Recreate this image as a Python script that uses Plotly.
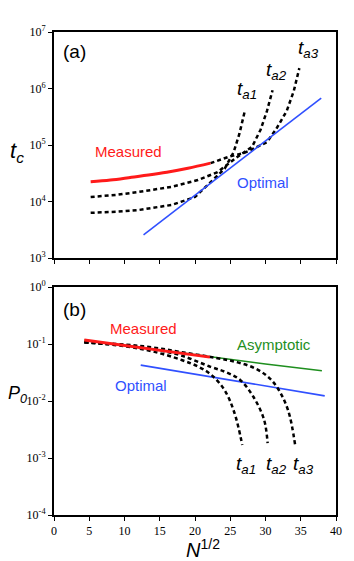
from plotly.subplots import make_subplots
import plotly.graph_objs as go

# ---- panel (a): t_c vs N^1/2 (log10 values) ----
n_meas_a = [5.2, 8, 11, 13.4, 16, 19, 22.2]
tc_meas = [10**v for v in [4.35, 4.38, 4.43, 4.47, 4.52, 4.59, 4.68]]

n_opt_a = [12.7, 37.9]
tc_opt = [10**3.41, 10**5.83]

n_ta1_a = [5.2, 9, 12, 16.7, 20, 22.2, 24.2, 25.5, 26.3, 27.1]
tc_ta1 = [10**v for v in [3.80, 3.82, 3.85, 3.94, 4.08, 4.35, 4.58, 4.88, 5.2, 5.62]]

n_ta2_a = [5.2, 9, 12, 16.7, 20.4, 23.2, 26, 28.1, 29.3, 30.2, 31]
tc_ta2 = [10**v for v in [4.08, 4.12, 4.17, 4.26, 4.38, 4.52, 4.79, 4.97, 5.27, 5.6, 5.97]]

n_ta3_a = [22.2, 25, 27, 30.2, 31.5, 33, 34, 34.8]
tc_ta3 = [10**v for v in [4.68, 4.80, 4.86, 5.05, 5.28, 5.6, 5.95, 6.36]]

# ---- panel (b): P_0 vs N^1/2 ----
n_meas_b = [4.3, 10, 16, 22.1]
p_meas = [10**v for v in [-0.93, -1.03, -1.13, -1.23]]

n_asym = [4.3, 22.1, 30, 38.0]
p_asym = [10**v for v in [-0.93, -1.23, -1.35, -1.47]]

n_opt_b = [12.3, 38.4]
p_opt = [10**-1.37, 10**-1.91]

n_ta1_b = [4.3, 10, 14, 18.1, 20.5, 22.3, 24.2, 25.6, 26.7]
p_ta1 = [10**v for v in [-0.97, -1.04, -1.13, -1.28, -1.40, -1.54, -1.81, -2.21, -2.77]]

n_ta2_b = [4.3, 10, 14, 18, 22.2, 24.5, 26.4, 28.3, 29.8, 30.3]
p_ta2 = [10**v for v in [-0.97, -1.02, -1.09, -1.20, -1.40, -1.50, -1.63, -1.93, -2.33, -2.74]]

n_ta3_b = [4.3, 10, 14, 18, 23.2, 26, 28.4, 30.2, 31.6, 33.2, 34.2]
p_ta3 = [10**v for v in [-0.97, -1.01, -1.06, -1.14, -1.25, -1.32, -1.42, -1.56, -1.75, -2.16, -2.77]]

x_ticks = [0, 5, 10, 15, 20, 25, 30, 35, 40]
tc_tickvals = [1e3, 1e4, 1e5, 1e6, 1e7]
tc_ticktext = ['10<sup>3</sup>', '10<sup>4</sup>', '10<sup>5</sup>', '10<sup>6</sup>', '10<sup>7</sup>']
p_tickvals = [1e-4, 1e-3, 1e-2, 1e-1, 1]
p_ticktext = ['10<sup>-4</sup>', '10<sup>-3</sup>', '10<sup>-2</sup>', '10<sup>-1</sup>', '10<sup>0</sup>']

RED = '#ff1a1a'
BLUE = '#3050ff'
GREEN = '#1f8f1f'
dotted = dict(color='black', width=2.5, dash='4px,3px')

fig = make_subplots(rows=2, cols=1)

# panel (a)
fig.add_trace(go.Scatter(x=n_ta1_a, y=tc_ta1, mode='lines', line=dotted), row=1, col=1)
fig.add_trace(go.Scatter(x=n_ta2_a, y=tc_ta2, mode='lines', line=dotted), row=1, col=1)
fig.add_trace(go.Scatter(x=n_ta3_a, y=tc_ta3, mode='lines', line=dotted), row=1, col=1)
fig.add_trace(go.Scatter(x=n_opt_a, y=tc_opt, mode='lines', line=dict(color=BLUE, width=1.6)), row=1, col=1)
fig.add_trace(go.Scatter(x=n_meas_a, y=tc_meas, mode='lines', line=dict(color=RED, width=3, shape='spline')), row=1, col=1)

# panel (b)
fig.add_trace(go.Scatter(x=n_asym, y=p_asym, mode='lines', line=dict(color=GREEN, width=1.6)), row=2, col=1)
fig.add_trace(go.Scatter(x=n_opt_b, y=p_opt, mode='lines', line=dict(color=BLUE, width=1.6)), row=2, col=1)
fig.add_trace(go.Scatter(x=n_ta1_b, y=p_ta1, mode='lines', line=dict(dotted, shape='spline')), row=2, col=1)
fig.add_trace(go.Scatter(x=n_ta2_b, y=p_ta2, mode='lines', line=dict(dotted, shape='spline')), row=2, col=1)
fig.add_trace(go.Scatter(x=n_ta3_b, y=p_ta3, mode='lines', line=dict(dotted, shape='spline')), row=2, col=1)
fig.add_trace(go.Scatter(x=n_meas_b, y=p_meas, mode='lines', line=dict(color=RED, width=3)), row=2, col=1)

axis_common = dict(showline=True, linecolor='black', linewidth=2, mirror=True,
                   showgrid=False, zeroline=False, ticks='outside', ticklen=4,
                   tickcolor='black', tickfont=dict(family='Liberation Serif', size=12, color='black'))

fig.update_xaxes(range=[0, 40], tickvals=x_ticks, **axis_common)
fig.update_xaxes(showticklabels=False, row=1, col=1)
fig.update_xaxes(domain=[0, 1])
fig.update_yaxes(type='log', **axis_common)
fig.update_yaxes(range=[3, 7], tickvals=tc_tickvals, ticktext=tc_ticktext, domain=[0.532, 1], row=1, col=1)
fig.update_yaxes(range=[-4, 0], tickvals=p_tickvals, ticktext=p_ticktext, domain=[0, 0.472], row=2, col=1)

sans = 'Liberation Sans'
ann = [
    dict(x=2.9, y=6.65, xref='x', yref='y', text='(a)', font=dict(size=19)),
    dict(x=10.5, y=4.89, xref='x', yref='y', text='Measured', font=dict(size=15, color=RED)),
    dict(x=29.6, y=4.33, xref='x', yref='y', text='Optimal', font=dict(size=15, color=BLUE)),
    dict(x=27.4, y=5.97, xref='x', yref='y', text='<i>t<sub>a1</sub></i>', font=dict(size=19)),
    dict(x=31.5, y=6.31, xref='x', yref='y', text='<i>t<sub>a2</sub></i>', font=dict(size=19)),
    dict(x=36.1, y=6.70, xref='x', yref='y', text='<i>t<sub>a3</sub></i>', font=dict(size=19)),
    dict(x=2.9, y=-0.40, xref='x2', yref='y2', text='(b)', font=dict(size=19)),
    dict(x=12.7, y=-0.72, xref='x2', yref='y2', text='Measured', font=dict(size=15, color=RED)),
    dict(x=31.2, y=-1.0, xref='x2', yref='y2', text='Asymptotic', font=dict(size=15, color=GREEN)),
    dict(x=12.4, y=-1.72, xref='x2', yref='y2', text='Optimal', font=dict(size=15, color=BLUE)),
    dict(x=27.3, y=-3.12, xref='x2', yref='y2', text='<i>t<sub>a1</sub></i>', font=dict(size=19)),
    dict(x=31.5, y=-3.12, xref='x2', yref='y2', text='<i>t<sub>a2</sub></i>', font=dict(size=19)),
    dict(x=35.4, y=-3.12, xref='x2', yref='y2', text='<i>t<sub>a3</sub></i>', font=dict(size=19)),
    dict(x=-0.132, y=0.752, xref='paper', yref='paper', text='<i>t<sub>c</sub></i>', font=dict(size=22)),
    dict(x=-0.13, y=0.25, xref='paper', yref='paper', text='<i>P<sub>0</sub></i>', font=dict(size=18)),
    dict(x=0.53, y=-0.07, xref='paper', yref='paper', text='<i>N</i><sup>1/2</sup>', font=dict(size=20)),
]
for a in ann:
    a['showarrow'] = False
    a['xanchor'] = 'center'
    a['yanchor'] = 'middle'
    a['font'].setdefault('color', 'black')
    a['font']['family'] = sans

# page body has an 8px margin, so the figure is 8px smaller on each axis
fig.update_layout(width=346, height=553, margin=dict(l=46, r=12, t=24, b=46),
                  paper_bgcolor='white', plot_bgcolor='white', showlegend=False,
                  annotations=ann)

fig.write_html("out.html")
